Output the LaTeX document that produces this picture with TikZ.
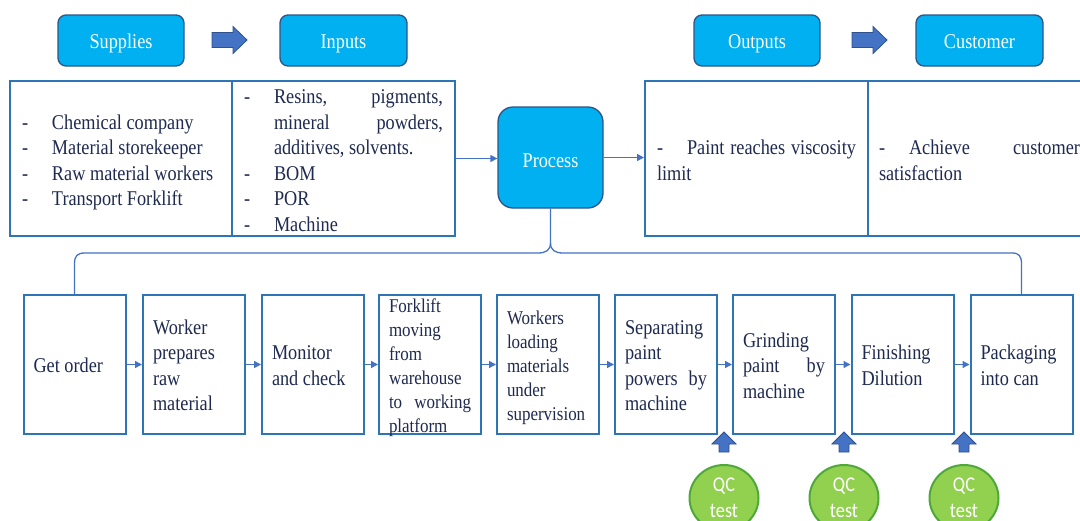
\documentclass[tikz,border=0pt]{standalone}
\usepackage{fontspec}
\setmainfont{Liberation Serif}[FakeStretch=0.87]
\newfontfamily\qcfont{Carlito}[FakeStretch=0.87]
\usetikzlibrary{arrows.meta,calc,shapes.geometric}
\definecolor{cyanbox}{HTML}{00B0F0}
\definecolor{cyanedge}{HTML}{2F5488}
\definecolor{tabedge}{HTML}{2E75B6}
\definecolor{conncol}{HTML}{4472C4}
\definecolor{txt}{HTML}{1E2A4F}
\definecolor{qcfill}{HTML}{92D050}
\definecolor{qcedge}{HTML}{4FA83A}
\definecolor{arrowedge}{HTML}{2F528F}
\newcommand\bodyfont{\fontsize{21}{25.5}\selectfont}
\newcommand\smallbody{\fontsize{19.5}{24}\selectfont}
\newcommand\itm[1]{\par\hangindent=30pt\hangafter=1\noindent\makebox[30pt][l]{-}#1}
\newcommand\jl[2][82pt]{\makebox[#1][s]{#2}}
\begin{document}
\begin{tikzpicture}[x=1pt,y=-1pt,
  lbl/.style={draw=cyanedge, line width=1.3pt, fill=cyanbox, rounded corners=8pt, minimum width=126pt, minimum height=51pt, inner sep=0pt, text=white, font=\bodyfont, text height=16pt, text depth=0pt},
  procbox/.style={lbl, rounded corners=15pt, minimum width=105pt, minimum height=101pt, text height=19pt, text depth=0pt},
  cell/.style={draw=tabedge, line width=2pt, minimum width=223pt, minimum height=155pt, inner sep=0pt},
  celltext/.style={inner sep=0pt, text width=199pt, text=txt, font=\bodyfont, align=justify},
  stepbox/.style={draw=tabedge, line width=2pt, minimum width=102pt, minimum height=139pt, inner sep=0pt},
  steptext/.style={inner sep=0pt, text width=82pt, text=txt, font=\bodyfont, align=justify, yshift=-3pt},
  conn/.style={draw=conncol, line width=1.3pt},
  arr/.style={conn, -{Triangle[length=7pt,width=7pt]}},
  blockarr/.style={fill=conncol, draw=arrowedge, line width=0.8pt},
  qc/.style={ellipse, draw=qcedge, line width=2pt, fill=qcfill, minimum width=69pt, minimum height=66pt, inner sep=0pt, text=white, align=center, font=\qcfont\fontsize{21}{26}\selectfont}
]
\fill[white] (0,0) rectangle (1080,520);
\useasboundingbox (0,0) rectangle (1080,520);
\clip (0,0) rectangle (1080,520);

% top labels
\node[lbl] (sup) at (121,40.5) {Supplies};
\node[lbl, minimum width=127pt] (inp) at (343.5,40.5) {Inputs};
\node[lbl] (out) at (757,40.5) {Outputs};
\node[lbl, minimum width=127pt] (cus) at (979.5,40.5) {Customer};

% block arrows
\draw[blockarr] (212,32.5) -- ++(21,0) -- ++(0,-6) -- ++(14,13.5) -- ++(-14,13.5) -- ++(0,-6) -- ++(-21,0) -- cycle;
\draw[blockarr] (852,32.5) -- ++(21,0) -- ++(0,-6) -- ++(14,13.5) -- ++(-14,13.5) -- ++(0,-6) -- ++(-21,0) -- cycle;

% tables
\node[cell, minimum width=222pt] (tsup) at (121,158.5) {};
\node[cell] (tinp) at (343.5,158.5) {};
\node[cell] (tout) at (756.5,158.5) {};
\node[cell] (tcus) at (979.5,158.5) {};

\node[celltext, text width=198pt] (tsuptxt) at (tsup.center) {\itm{\strut Chemical company}\itm{Material storekeeper}\itm{Raw material workers}\itm{Transport Forklift\strut}};
\node[celltext] (tinptxt) at (tinp.center) {\itm{\strut\jl[169pt]{Resins, pigments,}\\\jl[169pt]{mineral powders,}\\additives, solvents.}\itm{BOM}\itm{POR}\itm{Machine\strut}};
\node[celltext] (touttxt) at (tout.center) {\itm{\strut\jl[169pt]{Paint reaches viscosity}\\limit\strut}};
\node[celltext, text width=201pt] (tcustxt) at (tcus.center) {\itm{\strut\jl[171pt]{Achieve customer}\\satisfaction\strut}};

% process
\node[procbox] (proc) at (550.5,157.5) {Process};
\draw[arr] (tinp.east) -- (tinp.east -| proc.west);
\draw[arr] (proc.east) -- (proc.east -| tout.west);

% bottom steps
\node[stepbox] (b1) at (74.5,364.5) {};
\node[stepbox] (b2) at (194,364.5) {};
\node[stepbox] (b3) at (313,364.5) {};
\node[stepbox] (b4) at (430,364.5) {};
\node[stepbox] (b5) at (548,364.5) {};
\node[stepbox] (b6) at (666,364.5) {};
\node[stepbox] (b7) at (784,364.5) {};
\node[stepbox] (b8) at (902.5,364.5) {};
\node[stepbox] (b9) at (1021.5,364.5) {};

\node[steptext] (t1) at (b1.center) {\strut Get order\strut};
\node[steptext] (t2) at (b2.center) {\strut Worker\\prepares\\raw\\material\strut};
\node[steptext] (t3) at (b3.center) {\strut Monitor\\and check\strut};
\node[steptext, font=\smallbody] (t4) at (b4.center) {\strut Forklift\\moving\\from\\warehouse\\\jl{to working}\\platform\strut};
\node[steptext, font=\smallbody] (t5) at (b5.center) {\strut Workers\\loading\\materials\\under\\supervision\strut};
\node[steptext] (t6) at (b6.center) {\strut Separating\\paint\\\jl{powers by}\\machine\strut};
\node[steptext] (t7) at (b7.center) {\strut Grinding\\\jl{paint by}\\machine\strut};
\node[steptext] (t8) at (b8.center) {\strut Finishing\\Dilution\strut};
\node[steptext] (t9) at (b9.center) {\strut Packaging\\into can\strut};

\foreach \a/\b in {b1/b2,b2/b3,b3/b4,b4/b5,b5/b6,b6/b7,b7/b8,b8/b9}
  \draw[arr] (\a.east) -- (\b.west);

% brace from process to steps
\coordinate (stem) at (550.5,243);
\draw[conn] (b1.north) -- (74.5,264) .. controls (74.5,256) and (77,253) .. (85,253) -- (538,253) .. controls (546,253) and (550.5,250) .. (stem) -- (proc.south);
\draw[conn] (stem) .. controls (550.5,250) and (555,253) .. (563,253) -- (1012,253) .. controls (1019,253) and (1021.5,256) .. (1021.5,264) -- (b9.north);

% QC tests
\node[qc] (qc1) at (724,498) {QC\\test};
\node[qc] (qc2) at (844,498) {QC\\test};
\node[qc] (qc3) at (964,498) {QC\\test};
\foreach \q in {qc1,qc2,qc3}
  \draw[blockarr] ($(\q.north)+(-5,-12)$) -- ++(0,-8) -- ++(-7,0) -- ++(12,-12) -- ++(12,12) -- ++(-7,0) -- ++(0,8) -- cycle;
\end{tikzpicture}
\end{document}
